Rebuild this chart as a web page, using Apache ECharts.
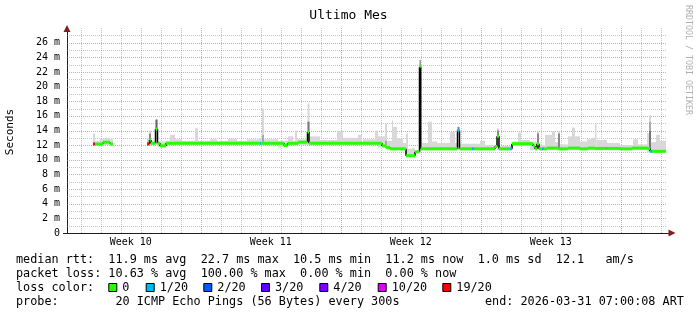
<!DOCTYPE html>
<html><head><meta charset="utf-8">
<script src="https://cdn.jsdelivr.net/npm/echarts@6/dist/echarts.min.js"></script>
<style>html,body{margin:0;padding:0;background:#fff}#c{width:697px;height:315px}</style>
</head><body><div id="c"></div>
<script>
const MONO = '"DejaVu Sans Mono", "Liberation Mono", monospace';
// x unit: days since Monday 00:00 of Week 10
const xMin = 0.315, xMax = 30.315;
const yMax = 28;
const weekLabelPos = [3.5, 10.5, 17.5, 24.5];
const weekLabels = ['Week 10', 'Week 11', 'Week 12', 'Week 13'];
const weekStarts = [7, 14, 21, 28];
const lossColors = ['#26ff00', '#00b8ff', '#0059ff', '#5e00ff', '#7e00ff', '#dd00ff', '#ff0000'];
const lossLabels = ['0', '1/20', '2/20', '3/20', '4/20', '10/20', '19/20'];

// median rtt segments: [startDay, endDay, ms, lossIndex]
const median = [
  [1.615, 1.715, 12.16, 6], [1.715, 2.115, 12.15, 0], [2.115, 2.465, 12.4, 0], [2.465, 2.615, 12.15, 0],
  [4.315, 4.44, 12.16, 6], [4.44, 4.515, 12.7, 0], [4.515, 4.74, 12.25, 0], [4.74, 4.84, 14.2, 0],
  [4.84, 4.965, 12.25, 0], [4.965, 5.265, 11.9, 0], [5.265, 9.94, 12.25, 0], [9.94, 10.04, 12.25, 1],
  [10.04, 11.165, 12.25, 0], [11.165, 11.34, 11.95, 0], [11.34, 11.865, 12.25, 0], [11.865, 12.34, 12.4, 0],
  [12.34, 12.415, 13.8, 0], [12.415, 16.065, 12.25, 0], [16.065, 16.265, 11.9, 0], [16.265, 16.465, 11.7, 0],
  [16.465, 17.265, 11.5, 0], [17.265, 17.715, 10.56, 0], [17.715, 17.94, 11.1, 0], [17.94, 18.0, 22.7, 0],
  [18.0, 19.84, 11.5, 0], [19.84, 19.94, 14.0, 1], [19.94, 20.565, 11.5, 0], [20.565, 20.665, 11.5, 1],
  [20.665, 21.715, 11.5, 0], [21.715, 21.815, 11.8, 0], [21.815, 21.915, 13.2, 0], [21.915, 22.465, 11.5, 0],
  [22.465, 22.565, 11.5, 1], [22.565, 23.615, 12.2, 0], [23.615, 23.715, 11.9, 0], [23.715, 23.815, 11.5, 0],
  [23.815, 23.915, 12.2, 0], [23.915, 24.065, 11.5, 0], [24.065, 24.165, 11.5, 1], [24.165, 24.315, 11.5, 0],
  [24.315, 24.865, 11.6, 0], [24.865, 25.365, 11.5, 0], [25.365, 25.965, 11.6, 0], [25.965, 26.365, 11.5, 0],
  [26.365, 26.715, 11.6, 0], [26.715, 27.965, 11.55, 0], [27.965, 28.565, 11.5, 0], [28.565, 29.365, 11.6, 0],
  [29.365, 29.465, 11.5, 0], [29.465, 29.565, 11.16, 1], [29.565, 30.265, 11.16, 0]
];

// light smoke (ping spread): [startDay, endDay, lowMs, highMs]
const smoke = [
  [1.615, 1.715, 12.0, 13.6], [1.715, 1.965, 12.0, 12.6], [1.965, 2.265, 12.0, 12.9], [2.265, 2.465, 12.0, 13.0],
  [2.465, 2.615, 12.0, 12.8], [4.315, 4.415, 12.0, 13.0], [4.415, 4.515, 12.0, 14.0], [4.515, 4.74, 12.0, 12.6],
  [4.74, 4.84, 12.0, 15.5], [4.84, 5.265, 11.7, 12.5], [5.265, 5.465, 12.0, 12.6], [5.465, 5.715, 12.0, 13.4],
  [5.715, 6.065, 12.0, 12.8], [6.065, 6.715, 12.0, 12.6], [6.715, 6.865, 12.0, 14.3], [6.865, 7.465, 12.0, 12.6],
  [7.465, 7.815, 12.0, 12.8], [7.815, 8.365, 12.0, 12.6], [8.365, 8.815, 12.0, 12.9], [8.815, 9.315, 12.0, 12.6],
  [9.315, 9.915, 12.0, 12.8], [9.915, 10.065, 12.0, 13.0], [10.065, 10.165, 12.0, 17.0], [10.165, 10.865, 12.0, 12.8],
  [10.865, 11.365, 11.7, 12.6], [11.365, 11.615, 12.0, 13.2], [11.615, 11.715, 12.0, 12.6], [11.715, 11.815, 12.0, 14.0],
  [11.815, 12.34, 12.0, 12.8], [12.34, 12.44, 12.0, 17.7], [12.44, 12.965, 12.0, 13.2], [12.965, 13.815, 12.0, 12.7],
  [13.815, 14.115, 12.0, 13.9], [14.115, 14.865, 12.0, 13.0], [14.865, 15.065, 12.0, 13.4], [15.115, 15.715, 12.0, 12.8],
  [15.715, 15.865, 12.0, 14.0], [15.865, 16.215, 11.7, 13.2], [16.215, 16.315, 11.5, 15.0], [16.315, 16.565, 11.3, 12.6],
  [16.565, 16.615, 11.3, 15.4], [16.615, 16.815, 11.3, 14.5], [16.815, 17.115, 11.3, 12.9], [17.115, 17.265, 11.3, 12.3],
  [17.265, 17.365, 10.4, 13.6], [17.365, 17.565, 10.4, 11.5], [17.565, 17.715, 10.4, 11.6], [17.94, 18.015, 11.0, 23.6],
  [18.015, 18.365, 11.3, 12.3], [18.365, 18.565, 11.3, 15.2], [18.565, 18.815, 11.3, 12.5], [18.815, 19.465, 11.3, 12.3],
  [19.465, 19.715, 11.3, 13.8], [19.715, 19.84, 11.3, 12.3], [19.84, 19.94, 11.3, 14.5], [19.94, 20.965, 11.3, 12.2],
  [20.965, 21.215, 11.3, 12.6], [21.215, 21.715, 11.3, 12.0], [21.815, 21.915, 11.3, 14.3], [21.915, 22.615, 11.3, 11.9],
  [22.615, 22.865, 11.9, 12.5], [22.865, 23.015, 11.9, 13.7], [23.015, 23.465, 11.9, 12.7], [23.465, 23.815, 11.3, 12.5],
  [23.815, 23.915, 11.3, 13.9], [23.915, 24.215, 11.3, 12.0], [24.215, 24.565, 11.3, 13.4], [24.565, 24.715, 11.3, 13.9],
  [24.715, 24.865, 11.3, 12.4], [24.865, 24.965, 11.3, 13.9], [24.965, 25.365, 11.3, 12.1], [25.365, 25.565, 11.3, 13.2],
  [25.565, 25.715, 11.3, 14.4], [25.715, 25.965, 11.3, 13.2], [25.965, 26.315, 11.3, 12.5], [26.315, 26.515, 11.3, 12.8],
  [26.515, 26.715, 11.3, 13.0], [26.715, 26.79, 11.3, 15.0], [26.79, 27.315, 11.3, 12.7], [27.315, 27.965, 11.3, 12.3],
  [27.965, 28.615, 11.3, 12.0], [28.615, 28.865, 11.3, 12.8], [28.865, 29.315, 11.3, 12.1], [29.315, 29.415, 11.0, 13.6],
  [29.415, 29.515, 11.0, 16.1], [29.515, 29.765, 11.0, 12.4], [29.765, 29.965, 11.0, 13.4], [29.965, 30.265, 11.0, 12.6]
];

// dense smoke near the median: [startDay, endDay, lowMs, highMs, grayLevel]
const smokeDark = [
  [4.74, 4.84, 14.2, 15.5, 102], [4.415, 4.515, 12.7, 13.6, 136], [10.065, 10.165, 12.3, 13.4, 170],
  [12.34, 12.44, 13.8, 15.2, 119], [16.215, 16.315, 11.7, 12.6, 170], [17.94, 18.015, 22.7, 23.6, 153],
  [19.84, 19.94, 14.0, 14.5, 136], [21.815, 21.915, 13.2, 14.0, 136], [23.815, 23.915, 12.2, 13.6, 136],
  [24.865, 24.965, 11.6, 13.6, 136], [29.415, 29.515, 11.2, 14.0, 119], [29.415, 29.515, 14.0, 15.2, 170]
];

const statsLine1 = 'median rtt:  11.9 ms avg  22.7 ms max  10.5 ms min  11.2 ms now  1.0 ms sd  12.1   am/s';
const statsLine2 = 'packet loss: 10.63 % avg  100.00 % max  0.00 % min  0.00 % now';
const probeLine = 'probe:        20 ICMP Echo Pings (56 Bytes) every 300s';
const endLine = 'end: 2026-03-31 07:00:08 ART';

// grid line positions (ticks)
const gridMinorX = [];
for (let d = 1; d <= 30; d++) if (weekStarts.indexOf(d) < 0) gridMinorX.push([d]);
const gridMajorX = weekStarts.map(d => [d]);
const gridMinorY = [], gridMajorY = [];
for (let v = 1; v < yMax; v++) (v % 2 ? gridMinorY : gridMajorY).push([v]);

// vertical connectors derived from consecutive median segments
const connectors = [];
for (let i = 0; i + 1 < median.length; i++) {
  if (median[i][1] === median[i + 1][0] && median[i][2] !== median[i + 1][2]) {
    connectors.push([median[i][1], median[i][2], median[i + 1][2]]);
  }
}

const GRID_COL = 'rgba(143,143,143,0.5)';
const MGRID_COL = 'rgba(222,79,79,0.55)';
const AXIS_COL = '#1f1f1f';
const ARROW_COL = '#801f1f';

function vLine(color) {
  return function (params, api) {
    const p0 = api.coord([api.value(0), 0]);
    const p1 = api.coord([api.value(0), yMax]);
    const x = Math.round(p0[0]) + 0.5;
    return { type: 'line', shape: { x1: x, y1: p0[1], x2: x, y2: p1[1] },
      style: { stroke: color, lineWidth: 1, lineDash: [1, 1] } };
  };
}
function hLine(color) {
  return function (params, api) {
    const p0 = api.coord([xMin, api.value(0)]);
    const p1 = api.coord([xMax, api.value(0)]);
    const y = Math.round(p0[1]) + 0.5;
    return { type: 'line', shape: { x1: p0[0], y1: y, x2: p1[0], y2: y },
      style: { stroke: color, lineWidth: 1, lineDash: [1, 1] } };
  };
}
function boxRender(fillFn) {
  return function (params, api) {
    const a = api.coord([api.value(0), api.value(3)]);
    const b = api.coord([api.value(1), api.value(2)]);
    return { type: 'rect', shape: { x: a[0], y: a[1], width: b[0] - a[0], height: b[1] - a[1] },
      style: { fill: fillFn(api) } };
  };
}
function segRender(params, api) {
  const p0 = api.coord([api.value(0), api.value(2)]);
  const p1 = api.coord([api.value(1), api.value(2)]);
  return { type: 'rect', shape: { x: p0[0], y: p0[1] - 1.5, width: p1[0] - p0[0], height: 3 },
    style: { fill: lossColors[api.value(3)] } };
}
function connRender(params, api) {
  const a = api.coord([api.value(0), api.value(1)]);
  const b = api.coord([api.value(0), api.value(2)]);
  return { type: 'line', shape: { x1: a[0], y1: a[1], x2: b[0], y2: b[1] },
    style: { stroke: '#000', lineWidth: 1.5 } };
}

function custom(data, render, z) {
  return { type: 'custom', data: data, renderItem: render, silent: true, animation: false, clip: true, z: z };
}

const chart = echarts.init(document.getElementById('c'), null, { renderer: 'canvas' });

const legendFont = '11.8px ' + MONO;
const graphics = [
  { type: 'text', x: 16, y: 260, style: { text: statsLine1, font: legendFont, fill: '#000', verticalAlign: 'middle', textVerticalAlign: 'middle' } },
  { type: 'text', x: 16, y: 274, style: { text: statsLine2, font: legendFont, fill: '#000', verticalAlign: 'middle', textVerticalAlign: 'middle' } },
  { type: 'text', x: 16, y: 288, style: { text: 'loss color:', font: legendFont, fill: '#000', verticalAlign: 'middle', textVerticalAlign: 'middle' } },
  { type: 'text', x: 16, y: 302, style: { text: probeLine, font: legendFont, fill: '#000', verticalAlign: 'middle', textVerticalAlign: 'middle' } },
  { type: 'text', x: 485, y: 302, style: { text: endLine, font: legendFont, fill: '#000', verticalAlign: 'middle', textVerticalAlign: 'middle' } },
  { type: 'text', x: 10, y: 132, rotation: Math.PI / 2, style: { text: 'Seconds', font: '11px ' + MONO, fill: '#000', align: 'center', textAlign: 'center', verticalAlign: 'middle', textVerticalAlign: 'middle' } },
  { type: 'text', x: 688, y: 60, rotation: -Math.PI / 2, style: { text: 'RRDTOOL / TOBI OETIKER', font: '8.3px ' + MONO, fill: '#b0b0b0', align: 'center', textAlign: 'center', verticalAlign: 'middle', textVerticalAlign: 'middle' } },
  // axis arrows
  { type: 'polygon', shape: { points: [[63.5, 32], [70.5, 32], [67, 25]] }, style: { fill: ARROW_COL } },
  { type: 'line', shape: { x1: 667, y1: 233.5, x2: 669, y2: 233.5 }, style: { stroke: AXIS_COL, lineWidth: 1 } },
  { type: 'polygon', shape: { points: [[668.5, 229.5], [668.5, 236.5], [675.5, 233]] }, style: { fill: ARROW_COL } },
  { type: 'line', shape: { x1: 67.5, y1: 233, x2: 67.5, y2: 32 }, style: { stroke: AXIS_COL, lineWidth: 1 } },
  { type: 'line', shape: { x1: 63, y1: 233.5, x2: 67, y2: 233.5 }, style: { stroke: AXIS_COL, lineWidth: 1 } }
];
const squareX = [108.3, 145.7, 203.3, 261, 319.3, 377.7, 442.3];
lossLabels.forEach((lab, i) => {
  graphics.push({ type: 'rect', shape: { x: squareX[i] + 0.5, y: 283.5, width: 8, height: 8 },
    style: { fill: lossColors[i], stroke: '#000', lineWidth: 1 } });
  graphics.push({ type: 'text', x: squareX[i] + 14, y: 288,
    style: { text: lab, font: legendFont, fill: '#000', verticalAlign: 'middle', textVerticalAlign: 'middle' } });
});

chart.setOption({
  backgroundColor: '#ffffff',
  animation: false,
  title: { text: 'Ultimo Mes', left: 'center', top: 4,
    textStyle: { fontFamily: MONO, fontSize: 13, fontWeight: 'normal', color: '#000' } },
  grid: { left: 67, right: 30, top: 28, bottom: 82 },
  xAxis: {
    type: 'value', min: xMin, max: xMax,
    axisLine: { show: true, onZero: false, lineStyle: { color: AXIS_COL, width: 1 } },
    axisTick: { show: false },
    splitLine: { show: false },
    axisLabel: {
      customValues: weekLabelPos,
      formatter: v => weekLabels[weekLabelPos.indexOf(v)] || '',
      fontFamily: MONO, fontSize: 10, color: '#000', margin: 4
    }
  },
  yAxis: {
    type: 'value', min: 0, max: yMax, interval: 2,
    axisLine: { show: false },
    axisTick: { show: false },
    splitLine: { show: false },
    axisLabel: {
      showMaxLabel: false,
      formatter: v => (v === 0 ? '0' : v + ' m'),
      fontFamily: MONO, fontSize: 10, color: '#000', margin: 7
    }
  },
  graphic: { elements: graphics },
  series: [
    custom(gridMinorY, hLine(GRID_COL), 1),
    custom(gridMinorX, vLine(GRID_COL), 1),
    custom(gridMajorY, hLine(MGRID_COL), 1),
    custom(gridMajorX, vLine(MGRID_COL), 1),
    custom(smoke, boxRender(() => '#d8d8d8'), 2),
    custom(smokeDark, boxRender(api => { const g = api.value(4); return 'rgb(' + g + ',' + g + ',' + g + ')'; }), 3),
    custom(connectors, connRender, 4),
    custom(median, segRender, 5)
  ]
});
</script>
</body></html>
